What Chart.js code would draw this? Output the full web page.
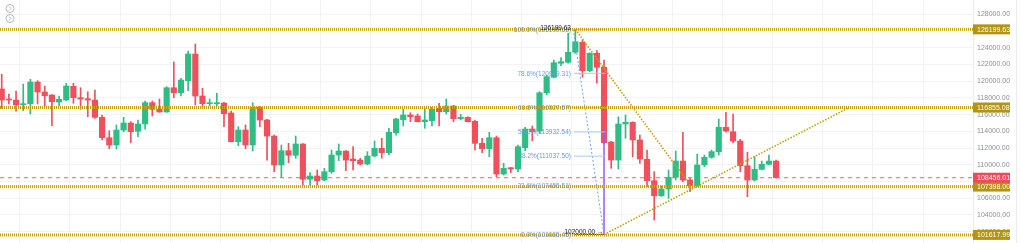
<!DOCTYPE html>
<html>
<head>
<meta charset="utf-8">
<script src="https://cdn.jsdelivr.net/npm/chart.js@4.4.0/dist/chart.umd.min.js"></script>
<style>
  html, body { margin: 0; padding: 0; background: #fff; }
  #wrap { width: 1020px; height: 243px; position: relative; }
</style>
</head>
<body>
<div id="wrap"><canvas id="candles" width="1020" height="243"></canvas></div>
<script>
// daily candles, oldest first
var opens = [119070,117870,117750,117190,117310,119900,118710,118350,117510,117750,
  119390,118030,117910,117750,115680,113240,112370,114160,115000,114010,
  114880,117430,116670,116320,119220,118620,120060,123250,118230,117310,
  117310,117390,116200,112760,114160,112370,116880,115360,113440,109980,
  111690,111140,112490,108270,108660,108180,109180,111170,111650,110690,
  110570,110100,111050,111970,111450,113840,115390,115960,115840,115160,
  115270,116760,116350,117030,115510,115680,115200,112570,111930,113240,
  108900,109650,109500,112050,114280,114040,118620,120470,122140,122260,
  123460,124650,121250,123340,121660,112730,110570,114880,115080,112970,
  110660,108100,106300,107110,108510,110450,108180,107500,109980,110900,
  111570,114490,113960,112850,109890,108180,109460,110060,110450];
var highs = [120820,118470,118830,119660,120230,120060,119420,118400,118230,119750,
  119750,119220,118740,118950,115960,114080,114760,115680,115160,115360,
  117630,117630,117870,119340,122300,120350,123610,124450,119150,117870,
  118550,117480,116430,114560,114760,117430,116950,115440,113560,112370,
  112570,113440,112550,109060,109380,109580,111770,112490,111700,112170,
  110780,111570,112850,113170,114370,115560,116640,116230,116080,116760,
  116880,117360,117870,117120,116040,115750,115360,113170,113890,113440,
  110180,109700,112370,114490,114640,118740,120740,122530,122810,125730,
  126199.63,124930,123400,123650,122530,112800,115750,115960,115150,113560,
  111770,109180,107460,109380,111650,113890,108390,111290,111170,111770,
  115480,116280,116080,113050,111500,110970,110450,111170,110570];
var lows = [116760,117270,116430,116470,116080,117270,117030,114680,117070,117670,
  117360,116640,115750,115560,112970,111930,111890,113960,112640,113360,
  114250,115840,116280,116280,118030,118230,118860,117150,116760,117070,
  117070,114560,112730,112280,111930,111650,114560,110570,109180,108510,
  110250,110780,107580,107580,107580,108100,108980,110490,109290,109380,
  109980,109980,110970,110780,111170,113560,114640,115160,115120,114370,
  114640,114640,116080,115160,115360,115120,111770,111450,110970,108580,
  108780,109060,109180,111690,112880,113770,118350,120400,121850,122150,
  123340,120470,121140,119750,112570,109580,109500,113170,110970,110180,
  107380,103400,106230,105990,108180,107980,106780,107380,109770,110780,
  111170,113890,112640,109180,106190,108060,109380,109980,108400];
var closes = [117750,117750,117150,117310,119900,118710,118260,117550,117830,119420,
  118030,117870,117750,115680,113240,112370,114160,115000,113960,114880,
  117430,116640,116320,119220,118620,120140,123250,118230,117310,117430,
  117430,116110,112760,114160,112370,116880,115360,113440,109980,111690,
  111140,112490,108270,108660,108100,109180,111170,111650,110570,110490,
  110100,111050,111970,111450,113890,115480,115960,115750,115160,115360,
  116640,116350,117030,115510,115680,115160,112570,111930,113240,108900,
  109580,109500,112170,114280,113960,118620,120540,122210,122330,123460,
  124720,121250,123340,121660,112640,110570,114880,115080,112970,110690,
  108100,106300,107110,108510,110450,108180,107500,109980,110900,111570,
  114490,114040,112850,109890,108180,109460,110060,110450,108456.01];

var yTicks = [102000,104000,106000,108000,110000,112000,114000,116000,
  118000,120000,122000,124000,126000,128000];
var levels = [126199.63, 116855.08, 107398.00, 101617.99];
var lastPrice = 108456.01;

// fibonacci retracement drawn from the top candle to the low anchor
var fibHigh = 126199.63, fibLow = 101665.45;
var fibLevels = [126199.63, 120949.31, 116827.57, 113932.54, 111037.50, 107455.51, 101665.45];
var fibLabels = ["100.0%(126199.63)", "78.6%(120949.31)", "61.8%(116827.57)",
  "50.0%(113932.54)", "38.2%(111037.50)", "23.6%(107455.51)", "0.0%(101665.45)"];
var fibFrom = 79.8, fibTo = 84.2;

var trendDown = [{x: 80, y: 126199.63}, {x: 96.1, y: 107460}];
var trendUp = [{x: 84, y: 101665.45}, {x: 118.2, y: 116855.08}];
var fibDiag = [{x: 79.7, y: fibHigh}, {x: 84, y: fibLow}];
var measure = [{x: 84, y: 114300}, {x: 84, y: fibLow}];

var xMin = -0.24, xMax = 135.46;
var UP = '#2ebd85', DOWN = '#f0505c', GOLD = '#c4a015', GOLD_BOX = '#b39410';

var colors = closes.map(function (c, i) { return c >= opens[i] ? UP : DOWN; });

var datasets = [];
levels.forEach(function (v) {
  datasets.push({ type: 'line', data: [{x: xMin, y: v}, {x: xMax, y: v}],
    borderColor: GOLD, borderWidth: 3, borderDash: [1, 1], pointRadius: 0, order: 1, clip: 4 });
});
datasets.push({ type: 'line', data: [{x: xMin, y: lastPrice}, {x: xMax, y: lastPrice}],
  borderColor: '#f0606a', borderWidth: 1, borderDash: [4, 4], pointRadius: 0, order: 1 });
fibLevels.forEach(function (v, k) {
  datasets.push({ type: 'line', data: [{x: fibFrom, y: v}, {x: fibTo, y: v}],
    borderColor: k === fibLevels.length - 1 ? '#555b66' : '#a9c8f5', borderWidth: 1,
    pointRadius: 0, order: 2 });
});
datasets.push({ type: 'line', data: fibDiag, borderColor: '#6aa6f0', borderWidth: 1,
  borderDash: [2, 2], pointRadius: 0, order: 2 });
datasets.push({ type: 'line', data: measure, borderColor: '#9b59f5', borderWidth: 1.5,
  pointRadius: 0, order: 2 });
[trendDown, trendUp].forEach(function (t) {
  datasets.push({ type: 'line', data: t, borderColor: GOLD, borderWidth: 1.6,
    borderDash: [1.5, 1.5], pointRadius: 0, order: 1 });
});
datasets.push({ type: 'bar', data: opens.map(function (o, i) { return {x: i, y: [lows[i], highs[i]]}; }),
  backgroundColor: colors, barThickness: 1, grouped: false, order: 10 });
datasets.push({ type: 'bar', data: opens.map(function (o, i) { return {x: i, y: [o, closes[i]]}; }),
  backgroundColor: colors, barThickness: 5.5, minBarLength: 1, grouped: false, order: 9 });

var overlay = {
  id: 'overlay',
  afterDatasetsDraw: function (chart) {
    var ctx = chart.ctx, ys = chart.scales.y, xs = chart.scales.x;
    ctx.save();
    ctx.font = '6.5px "Liberation Sans", Arial, sans-serif';
    ctx.textBaseline = 'middle';
    ctx.textAlign = 'right';
    var tx = xs.getPixelForValue(fibFrom) - 3;
    fibLevels.forEach(function (v, k) {
      ctx.fillStyle = '#6b98ee';
      ctx.fillText(fibLabels[k], tx, ys.getPixelForValue(v) + 0.5);
    });
    ctx.fillStyle = '#222';
    ctx.fillText(fibHigh.toFixed(2), tx, ys.getPixelForValue(fibHigh) - 1);
    ctx.fillText('102000.00 \u2192', xs.getPixelForValue(fibTo) - 2, ys.getPixelForValue(fibLow) - 2.5);
    ctx.restore();
  },
  afterDraw: function (chart) {
    var ctx = chart.ctx, ys = chart.scales.y, a = chart.chartArea;
    ctx.save();
    ctx.font = '7px "Liberation Sans", Arial, sans-serif';
    ctx.textBaseline = 'middle';
    ctx.textAlign = 'left';
    var boxes = levels.map(function (v) { return [v, GOLD_BOX]; });
    boxes.push([lastPrice, '#f04a5a']);
    boxes.forEach(function (b) {
      var y = ys.getPixelForValue(b[0]);
      ctx.fillStyle = b[1];
      ctx.fillRect(a.right, y - 5, 37, 10);
      ctx.fillStyle = '#fff';
      ctx.fillText(b[0].toFixed(2), a.right + 4, y + 0.5);
    });
    // scroll edge on the far right
    ctx.strokeStyle = '#ececef';
    ctx.lineWidth = 1;
    ctx.beginPath(); ctx.moveTo(1016.5, 0); ctx.lineTo(1016.5, 243); ctx.stroke();
    // small toggles, top left
    ctx.strokeStyle = '#b4b8bf';
    [8.5, 18.5].forEach(function (cy) {
      ctx.beginPath(); ctx.arc(10, cy, 4, 0, Math.PI * 2); ctx.stroke();
      ctx.beginPath(); ctx.moveTo(9, cy - 2); ctx.lineTo(11, cy); ctx.lineTo(9, cy + 2); ctx.stroke();
    });
    ctx.restore();
  }
};

new Chart(document.getElementById('candles'), {
  type: 'bar',
  data: { datasets: datasets },
  options: {
    responsive: false,
    animation: false,
    layout: { padding: 0 },
    plugins: { legend: { display: false }, tooltip: { enabled: false } },
    scales: {
      x: {
        type: 'linear', min: xMin, max: xMax, offset: false,
        ticks: { display: false },
        grid: { color: '#f3f3f5', drawTicks: false },
        border: { display: false },
        afterBuildTicks: function (s) {
          var t = [];
          for (var v = 6; v < xMax; v += 7) t.push({value: v});
          s.ticks = t;
        },
        afterFit: function (s) { s.height = 0; s.paddingLeft = 0; s.paddingRight = 0; }
      },
      y: {
        position: 'right', min: 100650, max: 129710,
        afterBuildTicks: function (s) { s.ticks = yTicks.map(function (v) { return {value: v}; }); },
        afterFit: function (s) { s.width = 47; s.paddingTop = 0; s.paddingBottom = 0; },
        ticks: {
          padding: 4, color: '#8c9099',
          font: { size: 7, family: '"Liberation Sans", Arial, sans-serif' },
          callback: function (v) { return Number(v).toFixed(2); }
        },
        grid: { color: '#f3f3f5', drawTicks: false },
        border: { display: true, color: '#ececef' }
      }
    }
  },
  plugins: [overlay]
});
</script>
</body>
</html>
